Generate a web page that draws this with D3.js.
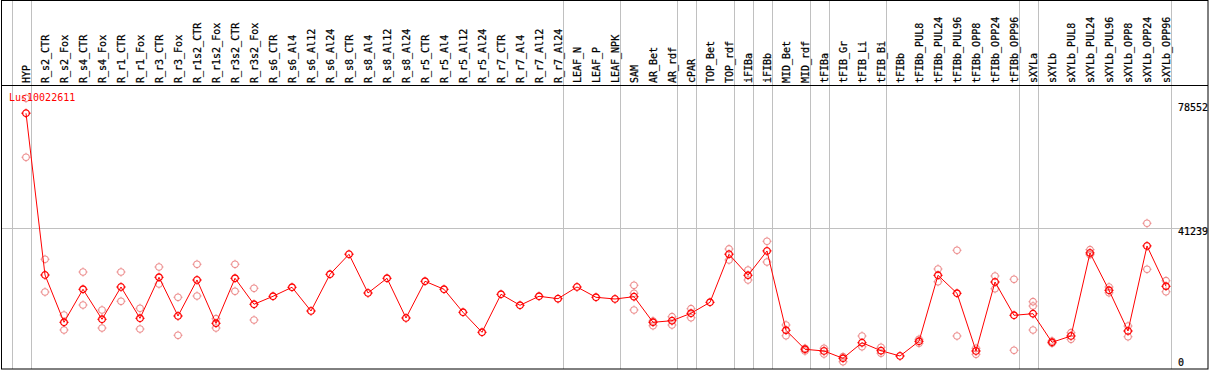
<!DOCTYPE html>
<html>
<head>
<meta charset="utf-8">
<script src="https://cdn.jsdelivr.net/npm/d3@7"></script>
<style>
  html, body { margin: 0; padding: 0; background: #fff; }
  svg { display: block; }
  text { font-family: "DejaVu Sans Mono", "Liberation Mono", monospace; font-size: 10px; }
</style>
</head>
<body>
<svg id="chart" width="1209" height="370"></svg>
<script>
const categories = ["HYP","R_s2_CTR","R_s2_Fox","R_s4_CTR","R_s4_Fox","R_r1_CTR","R_r1_Fox","R_r3_CTR","R_r3_Fox",
  "R_r1s2_CTR","R_r1s2_Fox","R_r3s2_CTR","R_r3s2_Fox","R_s6_CTR","R_s6_Al4","R_s6_Al12","R_s6_Al24",
  "R_s8_CTR","R_s8_Al4","R_s8_Al12","R_s8_Al24","R_r5_CTR","R_r5_Al4","R_r5_Al12","R_r5_Al24",
  "R_r7_CTR","R_r7_Al4","R_r7_Al12","R_r7_Al24","LEAF_N","LEAF_P","LEAF_NPK","SAM","AR_Bet","AR_rdf",
  "cPAR","TOP_Bet","TOP_rdf","iFIBa","iFIBb","MID_Bet","MID_rdf","tFIBa","tFIB_Gr","tFIB_Li","tFIB_Bi",
  "tFIBb","tFIBb_PUL8","tFIBb_PUL24","tFIBb_PUL96","tFIBb_OPP8","tFIBb_OPP24","tFIBb_OPP96",
  "sXYLa","sXYLb","sXYLb_PUL8","sXYLb_PUL24","sXYLb_PUL96","sXYLb_OPP8","sXYLb_OPP24","sXYLb_OPP96"];

const meanValues = [75570,27060,12870,22770,13770,23460,14070,26370,14760,
  25560,12570,26070,18270,20670,23370,16260,27270,
  33270,21660,26070,14160,25170,22770,15870,9870,
  21270,17970,20670,19950,23460,20370,19860,20550,12870,13350,
  15570,18870,33270,26970,34260,10470,4770,4260,2070,6750,4350,
  2760,7170,26970,21570,4260,24960,14970,
  15450,6870,8760,33660,22470,10260,35760,23670];

const replicateValues = [[80070,62370],[31770,21960],[15060,10560],[27960,18060],[16560,11160],[27960,19170],[17070,10860],[29460,24360],[20370,8970],
  [30270,20760],[13950,11160],[30270,22170],[23070,13560],[],[],[],[],
  [],[],[],[],[],[],[],[],
  [],[],[],[],[],[],[],[23970,21570,16560],[13260,11850],[14550,12060],
  [16950,14250],[],[34860,31560],[28560,25560],[37170,30960],[12060,8850],[4260,5070],[5070,3360],[1050,2550],[8760,5550],[5370,3570],
  [],[6570,7770],[28860,25050],[34470,8760],[5070,3270],[26760,22950],[25770,4470],
  [19050,17760,10560],[7260,6570],[9750,7770],[34650,33150],[23460,21750],[11760,8550],[42570,28770],[25350,22050]];

const yTickValues = [0, 41239, 78552];
const yGridValues = [41239];
const groupBoundaryAfter = ["HYP","R_r7_Al24","LEAF_NPK","AR_rdf","cPAR","TOP_rdf","iFIBa","iFIBb",
  "MID_rdf","tFIBa","tFIB_Bi","tFIBb_OPP96","sXYLa","sXYLb_OPP96"];
const geneLabel = "Lus10022611";

const svg = d3.select("#chart");
const W = 1209, H = 370;
const headerBottom = 85.5;

const x = d3.scalePoint().domain(categories).range([26, 1166]);
const step = x.step();
const y = d3.scaleLinear().domain([0, 78552]).range([365.2, 103.3]);

svg.append("rect").attr("x", 0).attr("y", 0).attr("width", W).attr("height", H).attr("fill", "#fff");

// vertical group grid lines (also before the first column)
const gx = [x(categories[0]) - step + 4.5].concat(groupBoundaryAfter.map(c => x(c) + 4.5));
svg.append("g").selectAll("line").data(gx).join("line")
  .attr("x1", d => Math.round(d) + 0.5).attr("x2", d => Math.round(d) + 0.5)
  .attr("y1", 0).attr("y2", 369)
  .attr("stroke", "#c0c0c0").attr("stroke-width", 1);

// horizontal grid
svg.append("g").selectAll("line").data(yGridValues).join("line")
  .attr("x1", 1).attr("x2", 1208)
  .attr("y1", d => Math.round(y(d)) + 0.5).attr("y2", d => Math.round(y(d)) + 0.5)
  .attr("stroke", "#c0c0c0").attr("stroke-width", 1);

// frame and header separator
svg.append("rect").attr("x", 1.5).attr("y", 0.5).attr("width", 1206.5).attr("height", 368.5)
  .attr("fill", "none").attr("stroke", "#000").attr("stroke-width", 1);
svg.append("line").attr("x1", 1).attr("x2", 1208).attr("y1", headerBottom).attr("y2", headerBottom)
  .attr("stroke", "#000").attr("stroke-width", 1);

// header category labels (vertical)
svg.append("g").selectAll("text").data(categories).join("text")
  .attr("transform", d => `translate(${x(d)},83) rotate(-90)`)
  .attr("dy", "0.36em")
  .attr("text-anchor", "start")
  .attr("fill", "#000")
  .attr("stroke", "#000").attr("stroke-width", 0.25)
  .text(d => d);

// y tick labels
svg.append("g").selectAll("text").data(yTickValues).join("text")
  .attr("x", 1178)
  .attr("y", d => Math.min(y(d) + 7.5, 365.5))
  .attr("fill", "#000")
  .attr("stroke", "#000").attr("stroke-width", 0.2)
  .text(d => d);

// marker path: circle with small ticks
function marker(r) {
  const p = d3.path();
  p.moveTo(r, 0); p.arc(0, 0, r, 0, 2 * Math.PI);
  p.moveTo(0, -r); p.lineTo(0, -r - 1.2);
  p.moveTo(0, r); p.lineTo(0, r + 1.2);
  p.moveTo(-r, 0); p.lineTo(-r - 1.2, 0);
  p.moveTo(r, 0); p.lineTo(r + 1.2, 0);
  return p.toString();
}
const mk = marker(3.3);

// replicate points
const reps = [];
categories.forEach((c, i) => replicateValues[i].forEach(v => reps.push({c, v})));
svg.append("g").selectAll("path").data(reps).join("path")
  .attr("d", mk)
  .attr("transform", d => `translate(${x(d.c)},${y(d.v)})`)
  .attr("fill", "none").attr("stroke", "#ec8c8c").attr("stroke-width", 1.1);

// mean line
const line = d3.line().x((d, i) => x(categories[i])).y(d => y(d));
svg.append("path").datum(meanValues).attr("d", line)
  .attr("fill", "none").attr("stroke", "#ff0000").attr("stroke-width", 1);

// mean points
svg.append("g").selectAll("path").data(meanValues).join("path")
  .attr("d", mk)
  .attr("transform", (d, i) => `translate(${x(categories[i])},${y(d)})`)
  .attr("fill", "none").attr("stroke", "#ff0000").attr("stroke-width", 1.3);

// gene label
svg.append("text").attr("x", 9).attr("y", 100.5).attr("fill", "#ff0000").text(geneLabel);
</script>
</body>
</html>
